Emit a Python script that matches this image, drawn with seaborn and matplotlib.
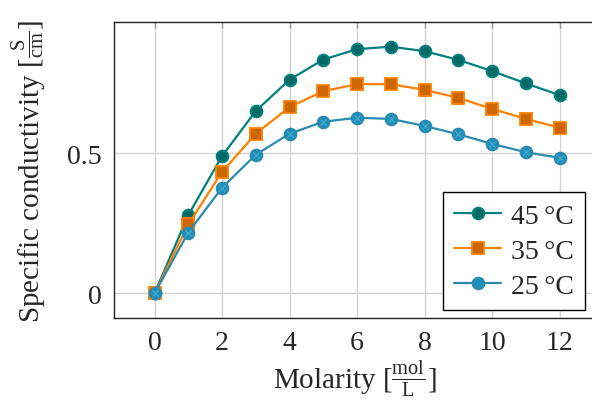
import numpy as np
import pandas as pd
import matplotlib
matplotlib.use("Agg")
import matplotlib.pyplot as plt
import seaborn as sns

# Molarity in mol/L and specific conductivity in S/cm
molarity = [0, 1, 2, 3, 4, 5, 6, 7, 8, 9, 10, 11, 12]
cond_45 = [0.0, 0.279, 0.490, 0.651, 0.763, 0.835, 0.872, 0.881, 0.865, 0.834, 0.794, 0.750, 0.708]
cond_35 = [0.0, 0.246, 0.433, 0.570, 0.665, 0.722, 0.747, 0.747, 0.727, 0.698, 0.659, 0.623, 0.592]
cond_25 = [0.0, 0.217, 0.377, 0.495, 0.570, 0.613, 0.627, 0.623, 0.598, 0.568, 0.534, 0.504, 0.484]
labels = ["45\u2009°C", "35\u2009°C", "25\u2009°C"]
x_ticks = [0, 2, 4, 6, 8, 10, 12]
y_ticks = [0, 0.5]
y_tick_labels = ["0", "0.5"]

sns.set_theme(style="white")
plt.rcParams["font.family"] = ["Liberation Serif", "DejaVu Serif"]
plt.rcParams["mathtext.fontset"] = "custom"
plt.rcParams["mathtext.rm"] = "Liberation Serif"
plt.rcParams["mathtext.it"] = "Liberation Serif:italic"

fig = plt.figure(figsize=(5.92, 4.10), dpi=100)
ax = fig.add_axes([114 / 592, 91 / 410, 486 / 592, 296 / 410])

series = [
    (cond_45, labels[0], "#00807f", "#006b66", "o"),
    (cond_35, labels[1], "#ff8000", "#cc6600", "s"),
    (cond_25, labels[2], "#2a8ab0", "#1e90b8", "o"),
]
for vals, lab, lc, fc, mk in series:
    df = pd.DataFrame({"Molarity": molarity, "Conductivity": vals})
    sns.lineplot(data=df, x="Molarity", y="Conductivity", ax=ax, color=lc,
                 linewidth=1.6, marker=mk, markersize=8.5 if mk == "o" else 8,
                 markerfacecolor=fc, markeredgecolor=lc, markeredgewidth=1.3,
                 label=lab, zorder=3)

# crossed-circle detail on the 25 °C markers
df25 = pd.DataFrame({"Molarity": molarity, "Conductivity": cond_25})
sns.scatterplot(data=df25, x="Molarity", y="Conductivity", ax=ax, marker="x",
                s=20, color="#4fb0d0", linewidth=0.7, zorder=4, legend=False)

ax.set_xlim(-1.2, 13.2)
ax.set_ylim(-0.0881, 0.9691)
ax.set_xticks(x_ticks)
ax.set_yticks(y_ticks)
ax.set_yticklabels(y_tick_labels)
ax.grid(True, color="#d4d4d4", linewidth=1.0, zorder=0)
ax.tick_params(direction="in", length=4, width=1, color="#999999",
               top=True, right=True, labelsize=20, pad=9)
for sp in ax.spines.values():
    sp.set_color("#222222")
    sp.set_linewidth(1.0)

ax.set_xlabel(r"Molarity [$\frac{\mathrm{mol}}{\mathrm{L}}$]", fontsize=21)
ax.set_ylabel(r"Specific conductivity [$\frac{\mathrm{S}}{\mathrm{cm}}$]", fontsize=21)
ax.xaxis.set_label_coords((355 - 114) / 486, -0.135)
ax.yaxis.set_label_coords((48 - 114) / 486, 0.5)

handles, labs = ax.get_legend_handles_labels()
leg = ax.legend(handles[:3], labs[:3], loc="lower right",
                bbox_to_anchor=(585 / 592, 99 / 410), bbox_transform=fig.transFigure,
                fontsize=20, frameon=True, fancybox=False, edgecolor="black",
                framealpha=1, borderpad=0.4, labelspacing=0.35,
                handlelength=1.7, handletextpad=0.35, borderaxespad=0)
leg.get_frame().set_linewidth(1.0)

fig.savefig("out.png", dpi=100)
